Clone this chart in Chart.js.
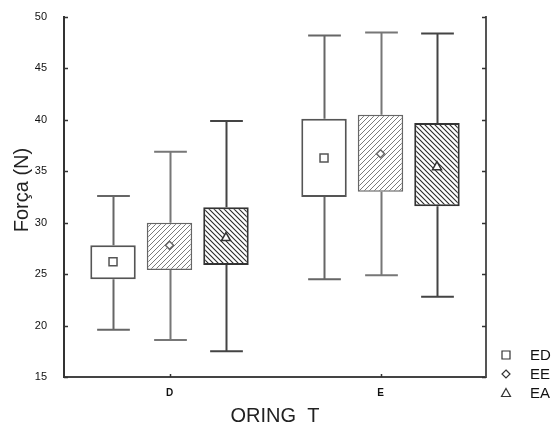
<!DOCTYPE html>
<html><head><meta charset="utf-8">
<script src="https://cdn.jsdelivr.net/npm/chart.js@4.4.0/dist/chart.umd.min.js"></script>
<style>html,body{margin:0;padding:0;background:#fff;}#wrap{width:560px;height:429px;}</style>
</head><body><div id="wrap"><canvas id="c" width="560" height="429"></canvas></div>
<script>
const categories = ['D', 'E'];
const seriesNames = ['ED', 'EE', 'EA'];
const yTicks = [15, 20, 25, 30, 35, 40, 45, 50];

const edLow  = [19.6, 24.5];
const edQ1   = [24.5, 32.5];
const edQ3   = [27.8, 40.1];
const edHigh = [32.6, 48.2];
const edMean = [26.2, 36.3];

const eeLow  = [18.6, 24.9];
const eeQ1   = [25.4, 33.0];
const eeQ3   = [30.0, 40.5];
const eeHigh = [36.9, 48.5];
const eeMean = [27.8, 36.7];

const eaLow  = [17.5, 22.8];
const eaQ1   = [25.9, 31.6];
const eaQ3   = [31.5, 39.7];
const eaHigh = [39.9, 48.4];
const eaMean = [28.6, 35.5];

function hatch(color, dir, lw, size) {
  const c = document.createElement('canvas');
  c.width = c.height = size;
  const g = c.getContext('2d');
  g.fillStyle = '#fff'; g.fillRect(0, 0, size, size);
  g.strokeStyle = color; g.lineWidth = lw;
  g.beginPath();
  if (dir > 0) {
    g.moveTo(0, size); g.lineTo(size, 0);
    g.moveTo(-1, 1); g.lineTo(1, -1);
    g.moveTo(size - 1, size + 1); g.lineTo(size + 1, size - 1);
  } else {
    g.moveTo(0, 0); g.lineTo(size, size);
    g.moveTo(-1, size - 1); g.lineTo(1, size + 1);
    g.moveTo(size - 1, -1); g.lineTo(size + 1, 1);
  }
  g.stroke();
  return g.createPattern(c, 'repeat');
}

const pair = (a, b) => a.map((v, i) => [v, b[i]]);

const seriesStyle = [
  {fill: '#ffffff', border: '#555555', bw: 2, whisker: '#666666', marker: 'square'},
  {fill: hatch('#7a7a7a', 1, 1, 5), border: '#666666', bw: 1.6, whisker: '#777777', marker: 'diamond'},
  {fill: hatch('#2a2a2a', -1, 1.1, 5), border: '#333333', bw: 2, whisker: '#444444', marker: 'triangle'}
];
const lows = [edLow, eeLow, eaLow];
const highs = [edHigh, eeHigh, eaHigh];
const means = [edMean, eeMean, eaMean];
const q1s = [edQ1, eeQ1, eaQ1];
const q3s = [edQ3, eeQ3, eaQ3];

function drawMarker(ctx, type, x, y, stroke, lw) {
  ctx.save();
  ctx.fillStyle = '#fff'; ctx.strokeStyle = stroke; ctx.lineWidth = lw;
  ctx.beginPath();
  if (type === 'square') {
    ctx.rect(x - 4, y - 4, 8, 8);
  } else if (type === 'diamond') {
    ctx.moveTo(x, y - 4); ctx.lineTo(x + 4, y); ctx.lineTo(x, y + 4); ctx.lineTo(x - 4, y); ctx.closePath();
  } else {
    ctx.moveTo(x, y - 4.5); ctx.lineTo(x + 4.5, y + 3.5); ctx.lineTo(x - 4.5, y + 3.5); ctx.closePath();
  }
  ctx.fill(); ctx.stroke();
  ctx.restore();
}

const boxPlugin = {
  id: 'boxExtras',
  beforeDatasetsDraw(chart) {
    const ctx = chart.ctx, ys = chart.scales.y;
    chart.data.datasets.forEach((ds, d) => {
      const meta = chart.getDatasetMeta(d);
      const st = seriesStyle[d];
      meta.data.forEach((el, i) => {
        const x = Math.round(el.x) + 0.5;
        const capW = el.width * 0.72;
        const yHi = ys.getPixelForValue(highs[d][i]);
        const yLo = ys.getPixelForValue(lows[d][i]);
        const yQ3 = ys.getPixelForValue(q3s[d][i]);
        const yQ1 = ys.getPixelForValue(q1s[d][i]);
        ctx.save();
        ctx.strokeStyle = st.whisker; ctx.lineWidth = 2;
        ctx.beginPath();
        ctx.moveTo(x, yQ3); ctx.lineTo(x, yHi);
        ctx.moveTo(x, yQ1); ctx.lineTo(x, yLo);
        ctx.moveTo(x - capW / 2, yHi); ctx.lineTo(x + capW / 2, yHi);
        ctx.moveTo(x - capW / 2, yLo); ctx.lineTo(x + capW / 2, yLo);
        ctx.stroke();
        ctx.restore();
      });
    });
  },
  afterDatasetsDraw(chart) {
    const ctx = chart.ctx, ys = chart.scales.y, xs = chart.scales.x;
    const area = chart.chartArea;
    chart.data.datasets.forEach((ds, d) => {
      const meta = chart.getDatasetMeta(d);
      const st = seriesStyle[d];
      meta.data.forEach((el, i) => {
        drawMarker(ctx, st.marker, el.x, ys.getPixelForValue(means[d][i]), st.border, 1.5);
      });
    });
    ctx.save();
    ctx.strokeStyle = '#333'; ctx.lineWidth = 1.5;
    ctx.beginPath();
    yTicks.forEach(v => {
      const py = Math.round(ys.getPixelForValue(v)) + 0.5;
      ctx.moveTo(area.left, py); ctx.lineTo(area.left + 4, py);
      ctx.moveTo(area.right, py); ctx.lineTo(area.right - 4, py);
    });
    categories.forEach((c, i) => {
      const px = Math.round(xs.getPixelForValue(i)) + 0.5;
      ctx.moveTo(px, area.bottom); ctx.lineTo(px, area.bottom - 3);
    });
    ctx.stroke();
    ctx.restore();
  },
  afterDraw(chart) {
    const ctx = chart.ctx, area = chart.chartArea;
    ctx.save();
    ctx.font = '15px "Liberation Sans", Arial, sans-serif';
    ctx.fillStyle = '#111';
    ctx.textBaseline = 'middle';
    const rowY = [area.bottom - 22, area.bottom - 3, area.bottom + 16];
    chart.data.datasets.forEach((ds, d) => {
      drawMarker(ctx, seriesStyle[d].marker, area.right + 20, rowY[d], '#333', 1.2);
      ctx.fillText(ds.label, area.right + 44, rowY[d] + 1);
    });
    ctx.fillStyle = '#222';
    ctx.font = '20px "Liberation Sans", Arial, sans-serif';
    ctx.textBaseline = 'alphabetic';
    ctx.textAlign = 'center';
    ctx.fillText('ORING  T', (area.left + area.right) / 2, 422);
    ctx.translate(28, 190);
    ctx.rotate(-Math.PI / 2);
    ctx.fillText('Força (N)', 0, 0);
    ctx.restore();
  }
};

const datasets = seriesNames.map((name, d) => ({
  label: name,
  data: pair(q1s[d], q3s[d]),
  backgroundColor: seriesStyle[d].fill,
  borderColor: seriesStyle[d].border,
  borderWidth: seriesStyle[d].bw,
  borderSkipped: false,
  categoryPercentage: 0.803,
  barPercentage: 0.805
}));

new Chart(document.getElementById('c'), {
  type: 'bar',
  data: {labels: categories, datasets},
  options: {
    responsive: false,
    animation: false,
    devicePixelRatio: 1,
    layout: {padding: {top: 17, right: 74, left: 0, bottom: 0}},
    plugins: {legend: {display: false}, tooltip: {enabled: false}},
    scales: {
      x: {
        offset: true,
        grid: {display: false},
        border: {display: true, color: '#444', width: 2},
        ticks: {color: '#111', font: {size: 10, weight: 'bold', family: '"Liberation Sans", Arial, sans-serif'}, padding: 2},
        afterFit(s) { s.height = 52; }
      },
      y: {
        min: 15, max: 50,
        afterBuildTicks(s) { s.ticks = yTicks.map(v => ({value: v})); },
        grid: {display: false},
        border: {display: true, color: '#333', width: 2},
        ticks: {color: '#111', padding: 9, font: {size: 11, family: '"Liberation Sans", Arial, sans-serif'}},
        afterFit(s) { s.width = 64; }
      },
      y2: {
        position: 'right',
        min: 15, max: 50,
        grid: {display: false},
        ticks: {display: false},
        border: {display: true, color: '#555', width: 2},
        afterFit(s) { s.width = 0; }
      }
    }
  },
  plugins: [boxPlugin]
});
</script>
</body></html>
